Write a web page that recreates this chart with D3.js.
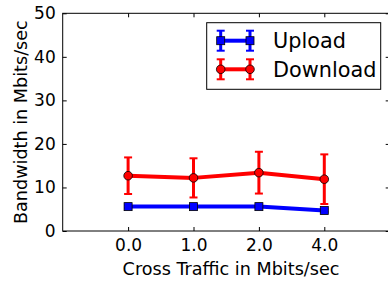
<!DOCTYPE html>
<html>
<head>
<meta charset="utf-8">
<script src="https://cdn.jsdelivr.net/npm/d3@7"></script>
<style>
html,body{margin:0;padding:0;background:#fff;}
svg{display:block;font-family:"DejaVu Sans",sans-serif;}
</style>
</head>
<body>
<svg id="chart" width="388" height="284"></svg>
<script>
const categories = ["0.0", "1.0", "2.0", "4.0"];
const uploadValues = [5.6, 5.6, 5.6, 4.7];
const uploadErrors = [0.3, 0.3, 0.3, 0.3];
const downloadValues = [12.7, 12.2, 13.4, 11.9];
const downloadErrors = [4.2, 4.5, 4.8, 5.7];
const yTicks = [0, 10, 20, 30, 40, 50];
const seriesNames = ["Upload", "Download"];

(function () {
const svg = d3.select("#chart");
const pLeft = 62.7, pRight = 389.7, pTop = 13.3, pBottom = 231;
const x = d3.scaleLinear().domain([-1, categories.length]).range([pLeft, pRight]);
const y = d3.scaleLinear().domain([0, 50]).range([pBottom, pTop]);
const idx = categories.map((c, i) => i);

// frame
svg.append("rect").attr("x", pLeft).attr("y", pTop).attr("width", pRight - pLeft).attr("height", pBottom - pTop)
  .attr("fill", "none").attr("stroke", "#000").attr("stroke-width", 1);

// bottom axis
const xAxis = d3.axisBottom(x).tickValues(idx).tickFormat(i => categories[i]).tickSize(-4).tickPadding(8);
const gx = svg.append("g").attr("transform", `translate(0,${pBottom})`).call(xAxis);
gx.select(".domain").remove();
gx.selectAll("text").attr("font-size", 17).attr("fill", "#000").attr("font-family", "DejaVu Sans");
// top ticks
const gxt = svg.append("g").attr("transform", `translate(0,${pTop})`)
  .call(d3.axisTop(x).tickValues(idx).tickFormat("").tickSize(-4));
gxt.select(".domain").remove();

// left axis
const yAxis = d3.axisLeft(y).tickValues(yTicks).tickFormat(d3.format("d")).tickSize(-4).tickPadding(7);
const gy = svg.append("g").attr("transform", `translate(${pLeft},0)`).call(yAxis);
gy.select(".domain").remove();
gy.selectAll("text").attr("font-size", 17).attr("fill", "#000").attr("font-family", "DejaVu Sans");
const gyr = svg.append("g").attr("transform", `translate(${pRight},0)`)
  .call(d3.axisRight(y).tickValues(yTicks).tickFormat("").tickSize(-4));
gyr.select(".domain").remove();
svg.selectAll(".tick line").attr("stroke", "#000");

// labels
svg.append("text").attr("x", 231).attr("y", 274.5).attr("text-anchor", "middle")
  .attr("font-size", 17.6).text("Cross Traffic in Mbits/sec");
svg.append("text").attr("transform", `translate(26.5,${(pTop + pBottom) / 2}) rotate(-90)`)
  .attr("text-anchor", "middle").attr("font-size", 17.6).text("Bandwidth in Mbits/sec");

function drawMarker(g, cx, cy, color, marker) {
  if (marker === "square") {
    g.append("rect").attr("x", cx - 4).attr("y", cy - 4).attr("width", 8).attr("height", 8)
      .attr("fill", color).attr("stroke", "#000").attr("stroke-width", 0.8);
  } else {
    g.append("circle").attr("cx", cx).attr("cy", cy).attr("r", 4.3)
      .attr("fill", color).attr("stroke", "#000").attr("stroke-width", 0.8);
  }
}
function drawSeries(values, errors, color, marker) {
  const g = svg.append("g");
  idx.forEach(i => {
    const cx = x(i), y0 = y(values[i] - errors[i]), y1 = y(values[i] + errors[i]);
    g.append("line").attr("x1", cx).attr("x2", cx).attr("y1", y0).attr("y2", y1)
      .attr("stroke", color).attr("stroke-width", 3);
    [y0, y1].forEach(yy => g.append("line").attr("x1", cx - 4).attr("x2", cx + 4).attr("y1", yy).attr("y2", yy)
      .attr("stroke", color).attr("stroke-width", 2));
  });
  const line = d3.line().x(i => x(i)).y(i => y(values[i]));
  g.append("path").attr("d", line(idx)).attr("fill", "none").attr("stroke", color).attr("stroke-width", 4)
    .attr("stroke-linejoin", "round");
  idx.forEach(i => drawMarker(g, x(i), y(values[i]), color, marker));
}
drawSeries(uploadValues, uploadErrors, "#0000ff", "square");
drawSeries(downloadValues, downloadErrors, "#ff0000", "circle");

// legend
const lg = svg.append("g");
lg.append("rect").attr("x", 206.7).attr("y", 22.7).attr("width", 174).attr("height", 66.6)
  .attr("fill", "#fff").attr("stroke", "#000").attr("stroke-width", 1);
const legendItems = [
  {name: seriesNames[0], color: "#0000ff", marker: "square", cy: 40.7},
  {name: seriesNames[1], color: "#ff0000", marker: "circle", cy: 69.3}
];
legendItems.forEach(d => {
  const xs = [220.7, 250];
  xs.forEach(cx => {
    lg.append("line").attr("x1", cx).attr("x2", cx).attr("y1", d.cy - 10).attr("y2", d.cy + 10)
      .attr("stroke", d.color).attr("stroke-width", 3);
    [d.cy - 10, d.cy + 10].forEach(yy => lg.append("line").attr("x1", cx - 4).attr("x2", cx + 4)
      .attr("y1", yy).attr("y2", yy).attr("stroke", d.color).attr("stroke-width", 2));
  });
  lg.append("line").attr("x1", xs[0]).attr("x2", xs[1]).attr("y1", d.cy).attr("y2", d.cy)
    .attr("stroke", d.color).attr("stroke-width", 4);
  xs.forEach(cx => drawMarker(lg, cx, d.cy, d.color, d.marker));
  lg.append("text").attr("x", 273).attr("y", d.cy + 7.5).attr("font-size", 20.8).text(d.name);
});
})();
</script>
</body>
</html>
